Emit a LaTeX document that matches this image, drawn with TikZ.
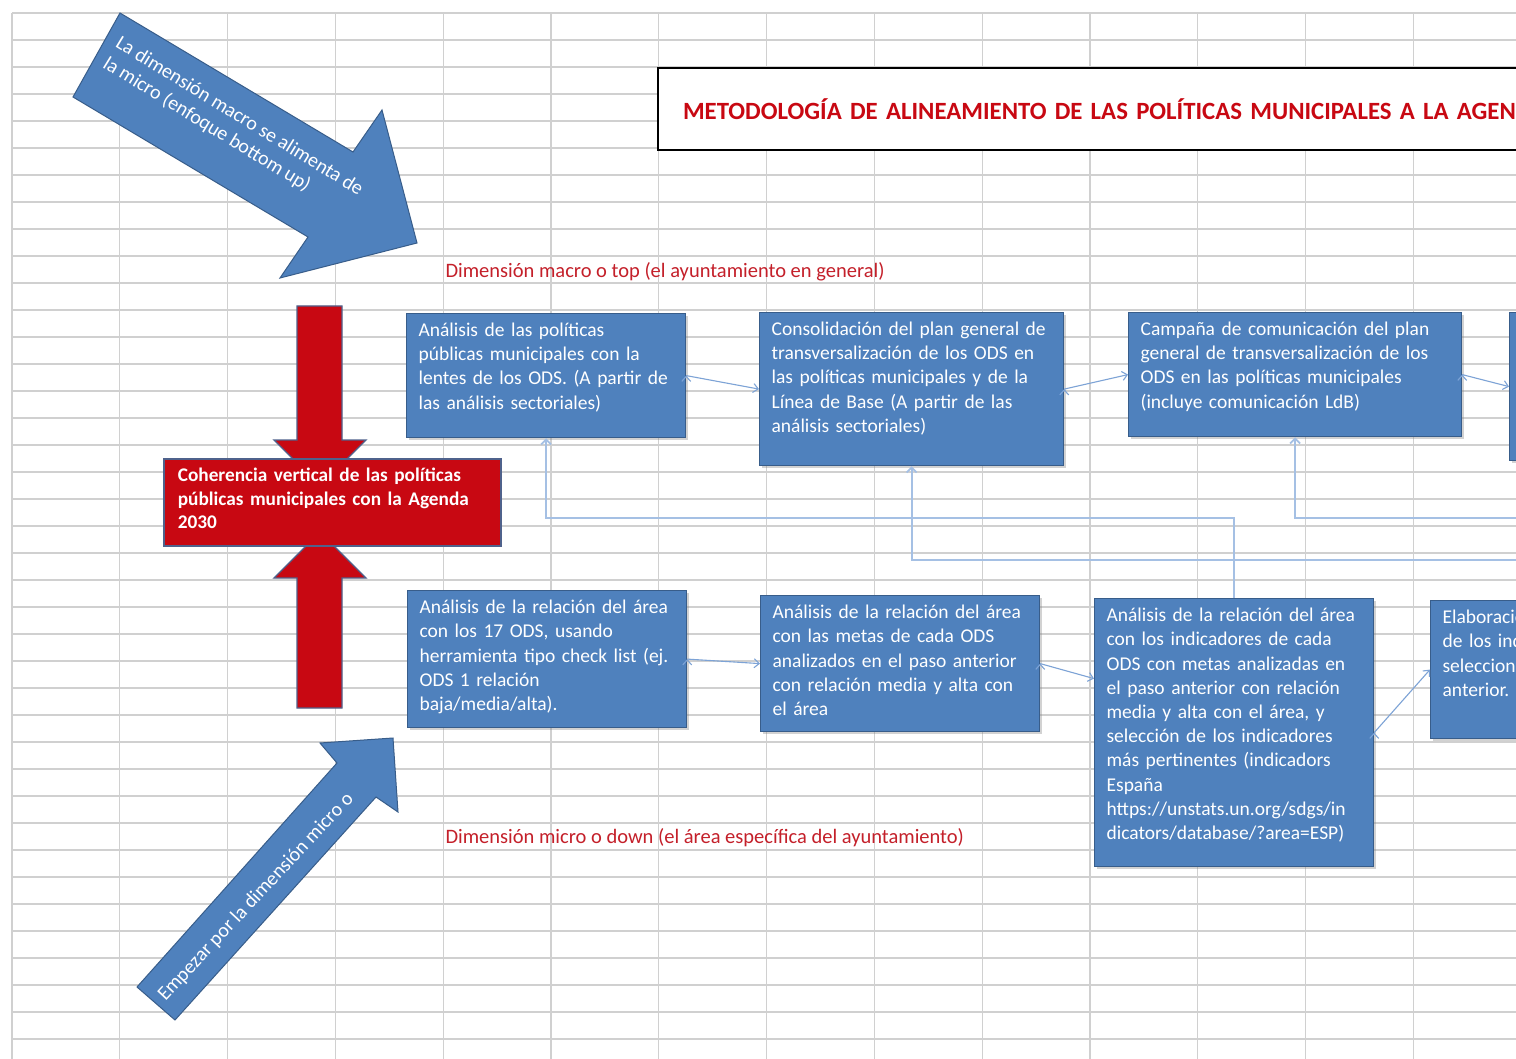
\documentclass[tikz,border=0pt]{standalone}
\usepackage{fontspec}
\setmainfont{Carlito}
\usetikzlibrary{arrows.meta, shadows}

\definecolor{boxblue}{RGB}{79,129,189}
\definecolor{boxedge}{RGB}{56,93,138}
\definecolor{cohred}{RGB}{200,8,18}
\definecolor{cohedge}{RGB}{79,98,140}
\definecolor{labelred}{RGB}{196,32,42}
\definecolor{linkblue}{RGB}{125,163,214}
\definecolor{backblue}{RGB}{165,192,228}
\definecolor{gridgray}{RGB}{208,208,208}

\begin{document}
\begin{tikzpicture}[x=1pt, y=-1pt,
    grid/.style={draw=gridgray, line width=1.2pt},
    stepbox/.style 2 args={draw=boxedge, line width=1.2pt, fill=boxblue, text=white,
      anchor=north west, align=left, inner xsep=12pt, inner ysep=8pt,
      text width=#1pt-24pt, text height=15pt, text depth=#2pt-31pt,
      font=\fontsize{19.5}{24.2}\selectfont,
      drop shadow={shadow xshift=2pt, shadow yshift=-2pt, opacity=0.35}},
    redbox/.style={draw=cohedge, line width=1.6pt, fill=cohred, text=white,
      anchor=north west, align=left, inner xsep=14pt, inner ysep=8pt,
      text width=309pt, text height=15pt, text depth=56pt,
      font=\bfseries\fontsize{19.3}{23.5}\selectfont},
    bigarrow/.style={fill=boxblue, draw=boxedge, line width=1pt},
    redarrow/.style={fill=cohred, draw=cohedge, line width=1.4pt},
    arrowtext/.style={text=white, align=left, font=\fontsize{20}{24}\selectfont},
    dimlabel/.style={anchor=west, text=labelred, font=\fontsize{20.5}{24}\selectfont},
    link/.style={draw=linkblue, line width=1.1pt, -{Straight Barb[length=5pt, width=9pt]}},
    back/.style={draw=backblue, line width=1.8pt, -{Straight Barb[length=5pt, width=10pt]}}]

    \useasboundingbox (0,0) rectangle (1516,1059);
    \clip (0,0) rectangle (1516,1059);
    \fill[white] (0,0) rectangle (1516,1059);

    % spreadsheet grid
    \foreach \k in {0,...,13}
        \draw[grid] (12+107.8*\k,13) -- (12+107.8*\k,1059);
    \foreach \k in {0,...,38}
        \draw[grid] (12,13+27*\k) -- (1516,13+27*\k);

    % title
    \node[draw, line width=2pt, fill=white, anchor=north west, inner xsep=25pt,
        minimum height=82pt, text width=1100pt, align=left, text=cohred,
        font=\bfseries\fontsize{24.8}{28}\selectfont] (title) at (657,67)
        {\mbox{METODOLOGÍA DE ALINEAMIENTO DE LAS POLÍTICAS MUNICIPALES A LA AGENDA 2030}};

    % diagonal arrows
    \draw[bigarrow] (120,13) -- (353,152) -- (382,110) -- (417,243) -- (280,278)
        -- (308,237) -- (73,97) -- cycle;
    \node[arrowtext, rotate=-31.5] (macro) at (233,127)
        {La dimensión macro se alimenta de\\la micro (enfoque bottom up)};
    \draw[bigarrow] (137,987) -- (337,763) -- (320,743) -- (393,738) -- (398,812)
        -- (376,797) -- (175,1020) -- cycle;
    \node[arrowtext, rotate=47] (micro) at (256,897) {Empezar por la dimensión micro o};

    % vertical red arrows
    \draw[redarrow] (297,306) -- (342,306) -- (342,440) -- (366,440) -- (320,486)
        -- (274,440) -- (297,440) -- cycle;
    \draw[redarrow] (297,708) -- (342,708) -- (342,578) -- (366,578) -- (320,532)
        -- (274,578) -- (297,578) -- cycle;
    \node[redbox] (coh) at (163,458)
        {Coherencia vertical de las políticas\\públicas municipales con la Agenda\\2030};

    \node[dimlabel] (top) at (442,272) {Dimensión macro o top (el ayuntamiento en general)};
    \node[dimlabel] (down) at (442,838) {Dimensión micro o down (el área específica del ayuntamiento)};

    % macro steps
    \node[stepbox={279}{124}] (t1) at (406,313)
        {Análisis de las políticas\\públicas municipales con la\\lentes de los ODS. (A partir de\\las análisis sectoriales)};
    \node[stepbox={304}{153}] (t2) at (759,312)
        {Consolidación del plan general de\\transversalización de los ODS en\\las políticas municipales y de la\\Línea de Base (A partir de las\\análisis sectoriales)};
    \node[stepbox={333}{124}] (t3) at (1128,312)
        {Campaña de comunicación del plan\\general de transversalización de los\\ODS en las políticas municipales\\(incluye comunicación LdB)};
    \node[stepbox={200}{148}] (t4) at (1509,312) {};

    % micro steps
    \node[stepbox={279}{137}] (b1) at (407,590)
        {Análisis de la relación del área\\con los 17 ODS, usando\\herramienta tipo check list (ej.\\ODS 1 relación\\baja/media/alta).};
    \node[stepbox={279}{136}] (b2) at (760,595)
        {Análisis de la relación del área\\con las metas de cada ODS\\analizados en el paso anterior\\con relación media y alta con\\el área};
    \node[stepbox={279}{268}] (b3) at (1094,598)
        {Análisis de la relación del área\\con los indicadores de cada\\ODS con metas analizadas en\\el paso anterior con relación\\media y alta con el área, y\\selección de los indicadores\\más pertinentes (indicadors\\España\\https://unstats.un.org/sdgs/in\\dicators/database/?area=ESP)};
    \node[stepbox={300}{138}] (b4) at (1430,600)
        {Elaboración\\de los indicadores\\seleccionados\\anterior.};

    \coordinate (fb1) at (1530,560);
    \coordinate (fb2) at (1530,518);

    \path[link] (t1.east) edge (t2.west);
    \path[link] (t2.east) edge (t3.west);
    \path[link] (t3.east) edge (t4.west);
    \path[link] (b1.east) edge (b2.west);
    \path[link] (b2.east) edge ([yshift=54pt]b3.west);
    \path[link] (b3.east) edge (b4.west);

    \draw[back] (b3.north) -- ++(0,-80) -| (t1.south);
    \draw[back] (fb1) -| (t2.south);
    \draw[back] (fb2) -| (t3.south);
\end{tikzpicture}
\end{document}
